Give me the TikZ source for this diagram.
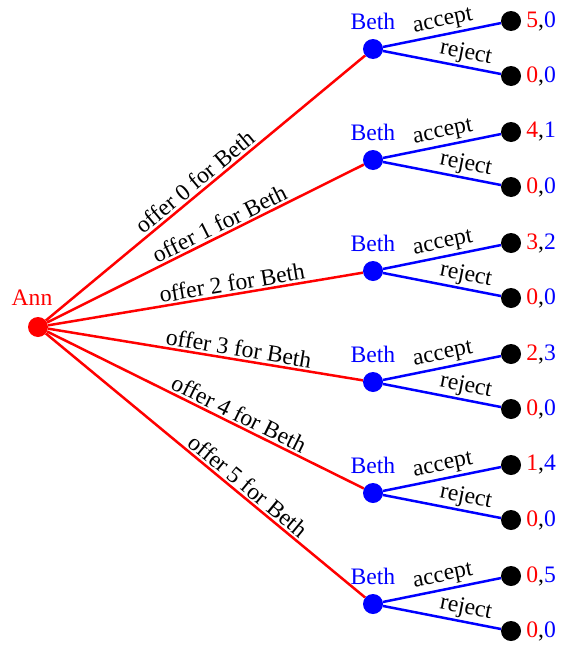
\documentclass[tikz,border=0pt]{standalone}
\usepackage{fontspec}
\setmainfont{Liberation Serif}

\tikzset{
  annnode/.style={circle, fill=red, inner sep=0pt, minimum size=20pt,
    label={[red, inner sep=0pt, label distance=11pt, xshift=-6pt]above:Ann}},
  bethnode/.style={circle, fill=blue, inner sep=0pt, minimum size=20pt,
    label={[blue, inner sep=0pt, label distance=9pt]above:Beth}},
  leaf/.style={circle, fill=black, inner sep=0pt, minimum size=20pt},
  offer/.style={red, line width=2.5pt},
  reply/.style={blue, line width=2.5pt},
  move/.style={sloped, above, inner sep=2pt, text=black},
}
\newcommand{\pay}[2]{\textcolor{red}{#1},\textcolor{blue}{#2}}

\begin{document}
\begin{tikzpicture}[x=1pt, y=-1pt, font=\fontsize{23.6}{28}\selectfont]
  \useasboundingbox (0,0) rectangle (561,645);

  % Raiz: Ann
  \node[annnode] (ann) at (38,327) {};

  % Nós de Beth
  \node[bethnode] (b0) at (373,49) {};
  \node[bethnode] (b1) at (373,160) {};
  \node[bethnode] (b2) at (373,271) {};
  \node[bethnode] (b3) at (373,382) {};
  \node[bethnode] (b4) at (373,493) {};
  \node[bethnode] (b5) at (373,604) {};

  % Folhas com pagamentos
  \tikzset{pl/.style={label={[inner sep=0pt, label distance=5pt]right:{#1}}}}
  \node[leaf, pl=\pay{5}{0}] (a0) at (511,21) {};
  \node[leaf, pl=\pay{0}{0}] (r0) at (511,76) {};
  \node[leaf, pl=\pay{4}{1}] (a1) at (511,132) {};
  \node[leaf, pl=\pay{0}{0}] (r1) at (511,187) {};
  \node[leaf, pl=\pay{3}{2}] (a2) at (511,243) {};
  \node[leaf, pl=\pay{0}{0}] (r2) at (511,298) {};
  \node[leaf, pl=\pay{2}{3}] (a3) at (511,354) {};
  \node[leaf, pl=\pay{0}{0}] (r3) at (511,409) {};
  \node[leaf, pl=\pay{1}{4}] (a4) at (511,465) {};
  \node[leaf, pl=\pay{0}{0}] (r4) at (511,520) {};
  \node[leaf, pl=\pay{0}{5}] (a5) at (511,576) {};
  \node[leaf, pl=\pay{0}{0}] (r5) at (511,631) {};

  % Ofertas de Ann
  \draw[offer] (ann) -- (b0) node[move, pos=0.49] {offer 0 for Beth};
  \draw[offer] (ann) -- (b1) node[move, pos=0.56] {offer 1 for Beth};
  \draw[offer] (ann) -- (b2) node[move, pos=0.59] {offer 2 for Beth};
  \draw[offer] (ann) -- (b3) node[move, pos=0.6] {offer 3 for Beth};
  \draw[offer] (ann) -- (b4) node[move, pos=0.59] {offer 4 for Beth};
  \draw[offer] (ann) -- (b5) node[move, pos=0.61] {offer 5 for Beth};

  % Respostas de Beth
  \foreach \i in {0,...,5} {
    \draw[reply] (b\i) -- (a\i) node[move, pos=0.53] {accept};
    \draw[reply] (b\i) -- (r\i) node[move, pos=0.68] {reject};
  }
\end{tikzpicture}
\end{document}
